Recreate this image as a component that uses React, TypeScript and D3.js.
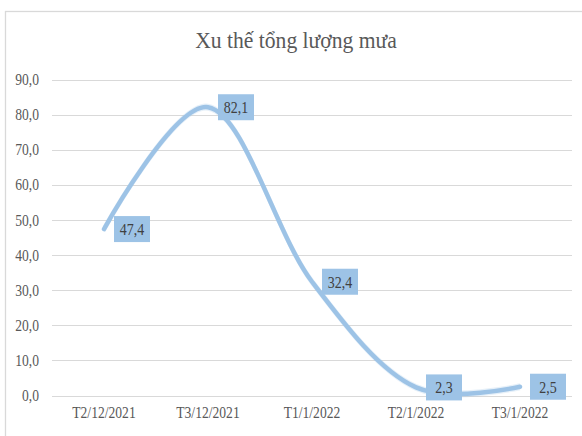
import { useEffect, useRef } from "react";
import * as d3 from "d3";

const categories = ["T2/12/2021", "T3/12/2021", "T1/1/2022", "T2/1/2022", "T3/1/2022"];
const rainfall = [47.4, 82.1, 32.4, 2.3, 2.5];
const yTicks = [0, 10, 20, 30, 40, 50, 60, 70, 80, 90];
const title = "Xu thế tổng lượng mưa";

const W = 582;
const H = 436;
const FONT = "Liberation Serif";
const fmt = (v: number) => d3.format(".1f")(v).replace(".", ",");

// squeeze text horizontally a bit, the reference font looks narrow
function condense(sel: any, factor: number) {
  sel.each(function (this: SVGTextElement) {
    const len = this.getComputedTextLength();
    d3.select(this).attr("textLength", len * factor).attr("lengthAdjust", "spacingAndGlyphs");
  });
}

export default function App() {
  const ref = useRef<SVGSVGElement>(null);

  useEffect(() => {
    const svg = d3.select(ref.current);
    svg.selectAll("*").remove();

    const margin = { top: 79.5, right: 10, bottom: 40.5, left: 52 };
    const x = d3.scaleBand().domain(categories).range([margin.left, 572]);
    const y = d3.scaleLinear().domain([0, 90]).range([H - margin.bottom, margin.top]);

    svg.append("rect").attr("width", W).attr("height", H).attr("fill", "#fff");

    // chart area border
    svg.append("rect")
      .attr("x", 5.5).attr("y", 11.5)
      .attr("width", W + 20).attr("height", H + 20)
      .attr("fill", "none")
      .attr("stroke", "#d9d9d9")
      .attr("stroke-width", 1.3);

    const t = svg.append("text")
      .attr("x", 296).attr("y", 48)
      .attr("text-anchor", "middle")
      .style("font-family", FONT)
      .attr("font-size", 24)
      .attr("fill", "#595959")
      .text(title);
    condense(t, 0.9);

    // gridlines
    svg.append("g").selectAll("line")
      .data(yTicks)
      .enter().append("line")
      .attr("x1", margin.left).attr("x2", 572)
      .attr("y1", d => Math.round(y(d)) + 0.5)
      .attr("y2", d => Math.round(y(d)) + 0.5)
      .attr("stroke", "#d9d9d9")
      .attr("stroke-width", 1.2);

    const yl = svg.append("g").selectAll("text")
      .data(yTicks)
      .enter().append("text")
      .attr("x", 39).attr("y", d => y(d))
      .attr("dy", "0.35em")
      .attr("text-anchor", "end")
      .style("font-family", FONT)
      .attr("font-size", 16)
      .attr("fill", "#595959")
      .text(d => fmt(d));
    condense(yl, 0.85);

    const xl = svg.append("g").selectAll("text")
      .data(categories)
      .enter().append("text")
      .attr("x", d => x(d)! + x.bandwidth() / 2)
      .attr("y", 418)
      .attr("text-anchor", "middle")
      .style("font-family", FONT)
      .attr("font-size", 16)
      .attr("fill", "#595959")
      .text(d => d);
    condense(xl, 0.85);

    const pts: [number, number][] = rainfall.map((v, i) => [x(categories[i])! + x.bandwidth() / 2, y(v)]);
    const line = d3.line().curve(d3.curveCatmullRom.alpha(0.3));

    // faint ghost strokes like the reference's soft edges
    [-2, 2].forEach(off => {
      svg.append("path")
        .attr("d", line(pts.map(p => [p[0], p[1] + off]) as [number, number][]))
        .attr("fill", "none")
        .attr("stroke", "#9dc3e6")
        .attr("stroke-opacity", 0.25)
        .attr("stroke-width", 3);
    });

    svg.append("path")
      .attr("d", line(pts))
      .attr("fill", "none")
      .attr("stroke", "#9dc3e6")
      .attr("stroke-width", 4.5)
      .attr("stroke-linecap", "round");

    // data labels
    const lab = svg.append("g").selectAll("g")
      .data(rainfall)
      .enter().append("g")
      .attr("transform", (d, i) => `translate(${pts[i][0] + 10},${pts[i][1]})`);

    lab.append("rect")
      .attr("x", 0).attr("y", -13)
      .attr("width", 36).attr("height", 26)
      .attr("fill", "#9dc3e6");

    const lt = lab.append("text")
      .attr("x", 18).attr("y", 0)
      .attr("dy", "0.35em")
      .attr("text-anchor", "middle")
      .style("font-family", FONT)
      .attr("font-size", 17)
      .attr("fill", "#404040")
      .text(d => fmt(d));
    condense(lt, 0.82);
  }, []);

  return (
    <svg
      ref={ref}
      width={W}
      height={H}
      style={{ position: "absolute", left: 0, top: 0 }}
    />
  );
}
